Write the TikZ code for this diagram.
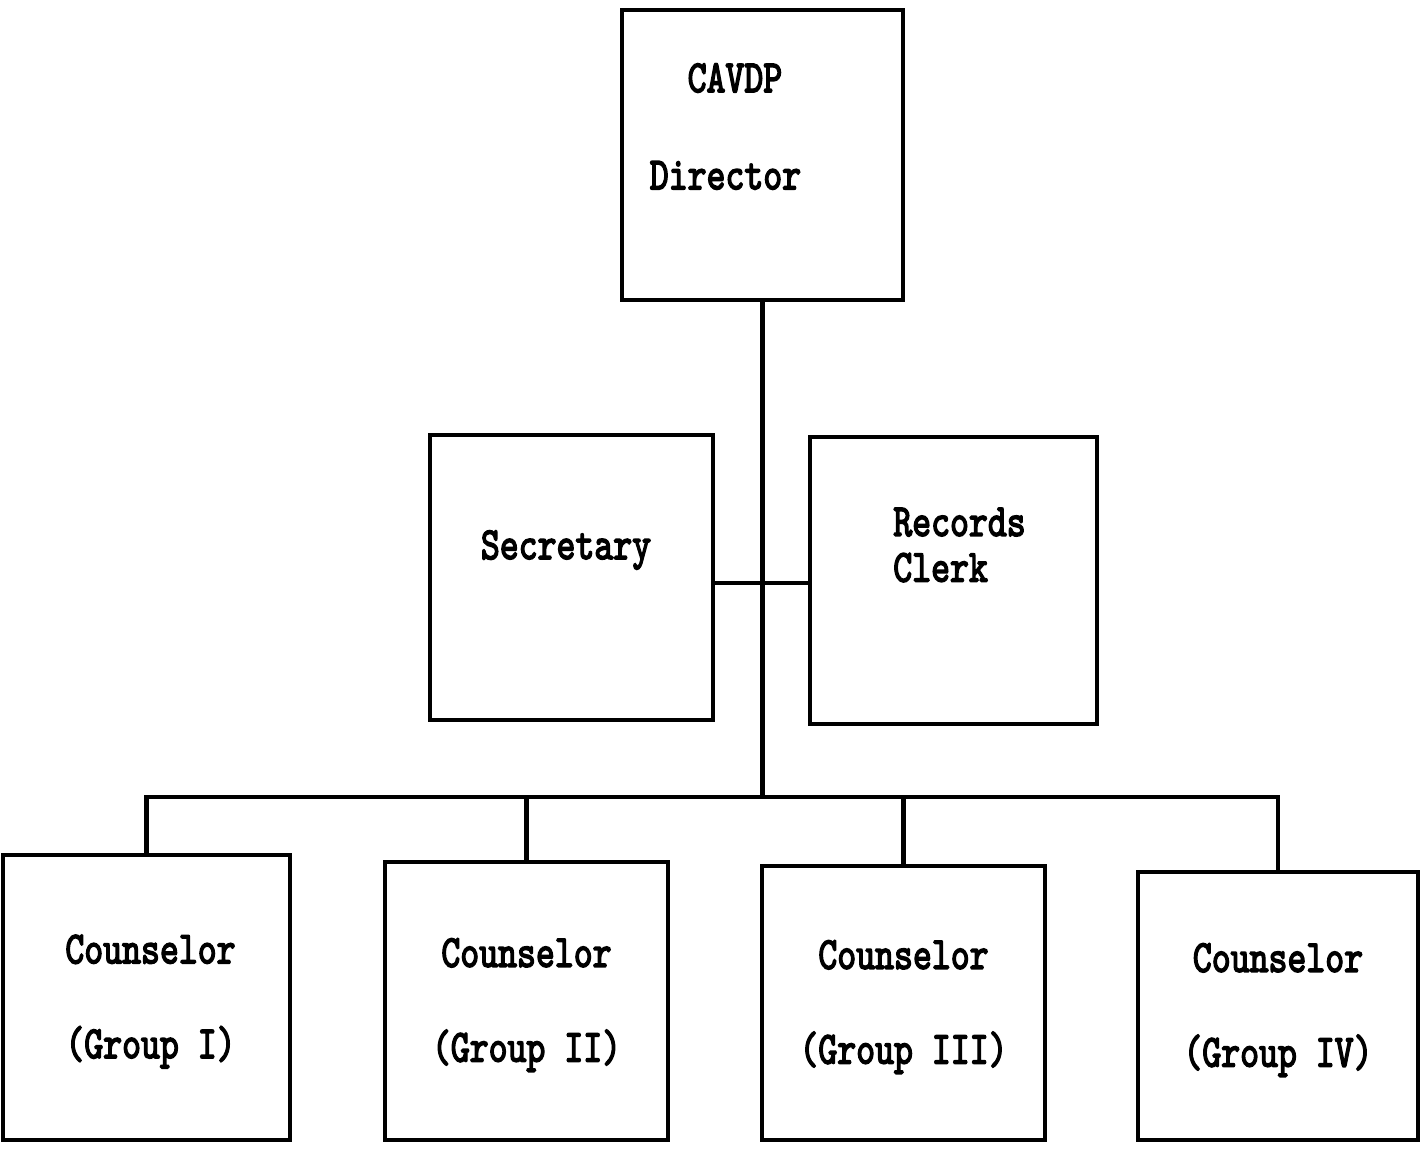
\documentclass[tikz,border=0pt]{standalone}
\usepackage{fontspec}
\usepackage{graphicx}
\usepackage{tikz}
\usetikzlibrary{positioning, calc}

\newfontfamily\typefont{lmmono10-regular.otf}[FakeBold=3.6]
\newcommand{\tall}[1]{\scalebox{1}[1.27]{#1}}

\tikzset{
	orgbox/.style={draw, rectangle, line width=2.6pt, inner sep=0pt},
	orgtext/.style={font=\typefont\fontsize{20.5}{26}\selectfont, align=center, inner sep=0pt},
	orgline/.style={line width=2.6pt}
}

\begin{document}
\begin{tikzpicture}
		\useasboundingbox (0,0) rectangle (28.42,-23.02);
		
		%Director at the top of the chart
		\node (director) at (15.25,-3.10) [orgbox, minimum width=5.62cm, minimum height=5.80cm,
		label={[orgtext, align=left, xshift=-0.74cm, yshift=0.57cm]center:{\tall{\phantom{Di}CAVDP}\\[1.03cm]\tall{Director}}}]{};
		
		%Staff boxes beside the trunk
		\node (secretary) at (11.43,-11.55) [orgbox, minimum width=5.66cm, minimum height=5.70cm,
		label={[orgtext, xshift=-0.11cm, yshift=0.55cm]center:{\tall{Secretary}}}]{};
		
		\node (records) at (19.07,-11.61) [orgbox, minimum width=5.74cm, minimum height=5.74cm,
		label={[orgtext, align=left, xshift=0.12cm, yshift=0.71cm]center:{\tall{Records}\\\tall{Clerk}}}]{};
		
		%Counselors in the bottom row
		\node (counselorOne) at (2.93,-19.95) [orgbox, minimum width=5.74cm, minimum height=5.70cm,
		label={[orgtext, xshift=0.08cm, yshift=-0.08cm]center:{\tall{Counselor}\\[0.98cm]\tall{(Group I)}}}]{};
		
		\node (counselorTwo) at (10.53,-20.02) [orgbox, minimum width=5.66cm, minimum height=5.56cm,
		label={[orgtext, yshift=-0.08cm]center:{\tall{Counselor}\\[0.98cm]\tall{(Group II)}}}]{};
		
		\node (counselorThree) at (18.07,-20.06) [orgbox, minimum width=5.66cm, minimum height=5.48cm,
		label={[orgtext, yshift=-0.08cm]center:{\tall{Counselor}\\[0.98cm]\tall{(Group III)}}}]{};
		
		\node (counselorFour) at (25.56,-20.12) [orgbox, minimum width=5.60cm, minimum height=5.36cm,
		label={[orgtext, yshift=-0.08cm]center:{\tall{Counselor}\\[0.98cm]\tall{(Group IV)}}}]{};
		
		%Links
		\coordinate (bus) at (15.25,-15.94);
		\coordinate (staff) at (15.25,-11.66);
		
		\draw[orgline] (director.south) -- (bus);
		
		\draw[orgline] (secretary.east |- staff) -- (records.west |- staff);
		
		\draw[orgline] (counselorOne.north) |- (bus) -| (counselorFour.north);
		
		\foreach \grp in {counselorTwo, counselorThree}
		\draw[orgline] (\grp.north) -- (\grp.north |- bus);
		
\end{tikzpicture}
\end{document}
